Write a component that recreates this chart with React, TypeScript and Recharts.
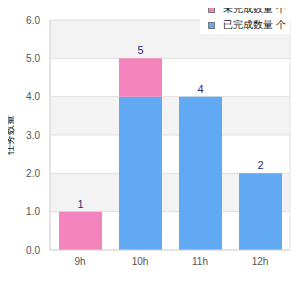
import React from 'react';
import { BarChart, Bar, XAxis, YAxis, CartesianGrid, LabelList } from 'recharts';

const categories = ['9h', '10h', '11h', '12h'];
const pinkValues = [1, 1, 0, 0];
const blueValues = [0, 4, 4, 2];
const yTicks = [0, 1, 2, 3, 4, 5, 6];
const seriesNames = ['未完成数量 个', '已完成数量 个'];
const yAxisTitle = '任务数量';

const PINK = '#f383bd';
const BLUE = '#61a9f3';
const FONT = 'Liberation Sans, Arial, sans-serif';

const data = categories.map((c, i) => ({
  name: c,
  pink: pinkValues[i],
  blue: blueValues[i],
  pinkLabel: pinkValues[i] > 0 ? pinkValues[i] + blueValues[i] : '',
  blueLabel: pinkValues[i] > 0 ? '' : pinkValues[i] + blueValues[i],
}));

const legendItems = [
  { name: seriesNames[0], color: PINK },
  { name: seriesNames[1], color: BLUE },
];

const labelStyle = { fill: '#2b2b8c', fontSize: 11, fontFamily: FONT };

export default function App() {
  return (
    <div style={{ margin: -8, width: 300, height: 300, position: 'relative', background: '#fff' }}>
      <BarChart
        width={300}
        height={300}
        data={data}
        margin={{ top: 20, right: 10, bottom: 20, left: 0 }}
        barSize={43}
      >
        <CartesianGrid
          vertical={true}
          verticalCoordinatesGenerator={({ offset }: any) => [offset.left, offset.left + offset.width]}
          stroke="#e0e0e0"
          horizontalFill={['#f3f3f3', '#ffffff']}
          fillOpacity={1}
        />
        <XAxis
          dataKey="name"
          axisLine={{ stroke: '#d9d9d9' }}
          tickLine={false}
          height={30}
          tick={{ fill: '#555', fontSize: 10, fontFamily: FONT }}
        />
        <YAxis
          domain={[0, 6]}
          ticks={yTicks}
          width={50}
          axisLine={{ stroke: '#d9d9d9' }}
          tickLine={false}
          tickMargin={4}
          tickFormatter={(v: number) => v.toFixed(1)}
          tick={{ fill: '#555', fontSize: 10, fontFamily: FONT }}
          label={{
            value: yAxisTitle,
            angle: -90,
            position: 'insideLeft',
            offset: 9,
            style: { textAnchor: 'middle', fontSize: 10, fill: '#111' },
          }}
        />
        <Bar dataKey="blue" stackId="a" fill={BLUE} isAnimationActive={false}>
          <LabelList dataKey="blueLabel" position="top" offset={4} style={labelStyle} />
        </Bar>
        <Bar dataKey="pink" stackId="a" fill={PINK} isAnimationActive={false}>
          <LabelList dataKey="pinkLabel" position="top" offset={4} style={labelStyle} />
        </Bar>
      </BarChart>
      <div
        style={{
          position: 'absolute',
          top: 0,
          right: 10,
          background: '#fff',
          padding: '1px 4px 1px 8px',
          fontFamily: FONT,
        }}
      >
        {legendItems.map((it) => (
          <div
            key={it.name}
            style={{ display: 'flex', alignItems: 'center', height: 16, fontSize: 10, lineHeight: '14px', color: '#111' }}
          >
            <span style={{ display: 'inline-block', width: 5, height: 5, background: it.color, border: '1px solid #777', marginRight: 8 }} />
            <span>{it.name}</span>
          </div>
        ))}
      </div>
    </div>
  );
}
